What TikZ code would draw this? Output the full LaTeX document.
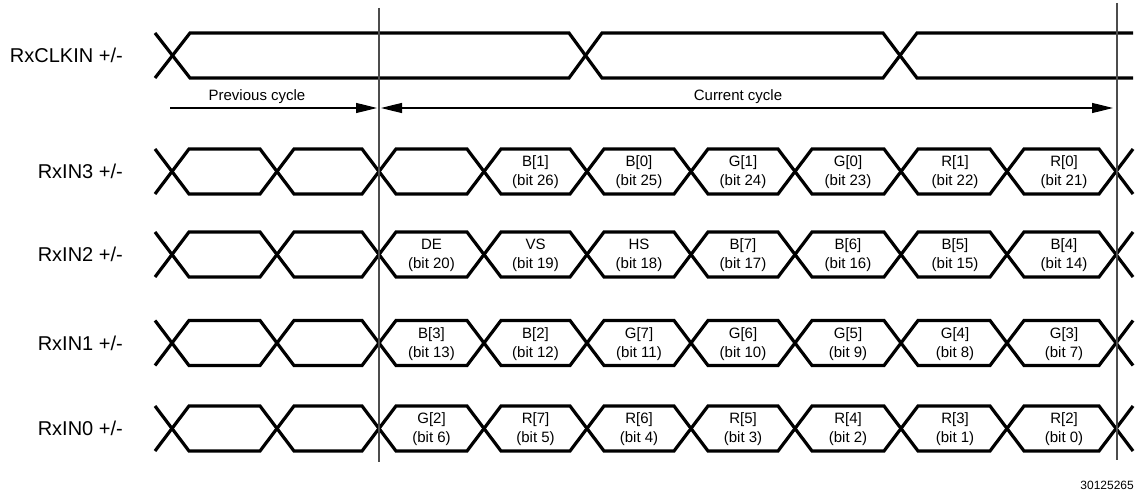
\documentclass[tikz,border=0pt]{standalone}
\usepackage{fontspec}
\setmainfont{Liberation Sans}
\usetikzlibrary{arrows.meta}
\begin{document}
\begin{tikzpicture}[x=1pt,y=-1pt,
  sig/.style={line width=3.2pt, line join=miter, black},
  marker/.style={line width=1.4pt, draw=black!70},
  span/.style={line width=1.2pt, -{Triangle[length=21pt,width=10pt]}},
  dspan/.style={line width=1.2pt, {Triangle[length=21pt,width=10pt]}-{Triangle[length=21pt,width=10pt]}},
  lbl/.style={anchor=east, inner sep=0pt, font=\fontsize{20}{24}\selectfont},
  cell/.style={align=center, inner sep=0pt, font=\fontsize{15}{19}\selectfont},
  note/.style={inner sep=0pt, font=\fontsize{15}{18}\selectfont},
  fig/.style={inner sep=0pt, anchor=east, font=\fontsize{12}{14}\selectfont}]
\useasboundingbox (0,0) rectangle (1137,494);

% clock
\draw[sig] (155,33) -- (190,78) -- (569,78) -- (602,33) -- (883,33) -- (917,78) -- (1133,78);
\draw[sig] (155,78) -- (190,33) -- (569,33) -- (602,78) -- (883,78) -- (917,33) -- (1133,33);
\node[lbl] (lclk) at (123,55.5) {RxCLKIN +/-};

% data rows
\foreach \yc/\nm in {171.5/3, 254.5/2, 343/1, 428.5/0} {
  \draw[sig] (155,\yc-22.5) -- (189,\yc+22.5)
    \foreach \c [count=\i from 2] in {277,379,484,587,691,795,901,1007,1116} {
      -- (\c-17,{\yc+22.5*cos(180*\i)}) -- (\c+17,{\yc-22.5*cos(180*\i)}) };
  \draw[sig] (155,\yc+22.5) -- (189,\yc-22.5)
    \foreach \c [count=\i from 2] in {277,379,484,587,691,795,901,1007,1116} {
      -- (\c-17,{\yc-22.5*cos(180*\i)}) -- (\c+17,{\yc+22.5*cos(180*\i)}) };
  \node[lbl] (lin\nm) at (123,\yc) {RxIN\nm{} +/-};
}

% cell texts
\foreach \x/\t/\b [count=\k] in {535.5/B[1]/26, 639/B[0]/25, 743/G[1]/24, 848/G[0]/23, 955/R[1]/22, 1064/R[0]/21}
  \node[cell] (ca\k) at (\x,172.5) {\t\\(bit \b)};
\foreach \x/\t/\b [count=\k] in {431.5/DE/20, 535.5/VS/19, 639/HS/18, 743/B[7]/17, 848/B[6]/16, 955/B[5]/15, 1064/B[4]/14}
  \node[cell] (cb\k) at (\x,255.5) {\t\\(bit \b)};
\foreach \x/\t/\b [count=\k] in {431.5/B[3]/13, 535.5/B[2]/12, 639/G[7]/11, 743/G[6]/10, 848/G[5]/9, 955/G[4]/8, 1064/G[3]/7}
  \node[cell] (cc\k) at (\x,344) {\t\\(bit \b)};
\foreach \x/\t/\b [count=\k] in {431.5/G[2]/6, 535.5/R[7]/5, 639/R[6]/4, 743/R[5]/3, 848/R[4]/2, 955/R[3]/1, 1064/R[2]/0}
  \node[cell] (cd\k) at (\x,429.5) {\t\\(bit \b)};

% cycle boundaries
\coordinate (v1t) at (379,8);
\coordinate (v1b) at (379,462);
\coordinate (v2t) at (1117,3);
\coordinate (v2b) at (1117,460);
\draw[marker] (v1t) -- (v1b);
\draw[marker] (v2t) -- (v2b);

% cycle arrows
\coordinate (pa) at (170,108);
\coordinate (pb) at (377,108);
\coordinate (ca) at (381,108);
\coordinate (cb) at (1113,108);
\draw[span] (pa) -- (pb);
\draw[dspan] (ca) -- (cb);
\node[note] (tprev) at (257,97) {Previous cycle};
\node[note] (tcur) at (738,97) {Current cycle};

\node[fig] (fignum) at (1134,485) {30125265};
\end{tikzpicture}
\end{document}
